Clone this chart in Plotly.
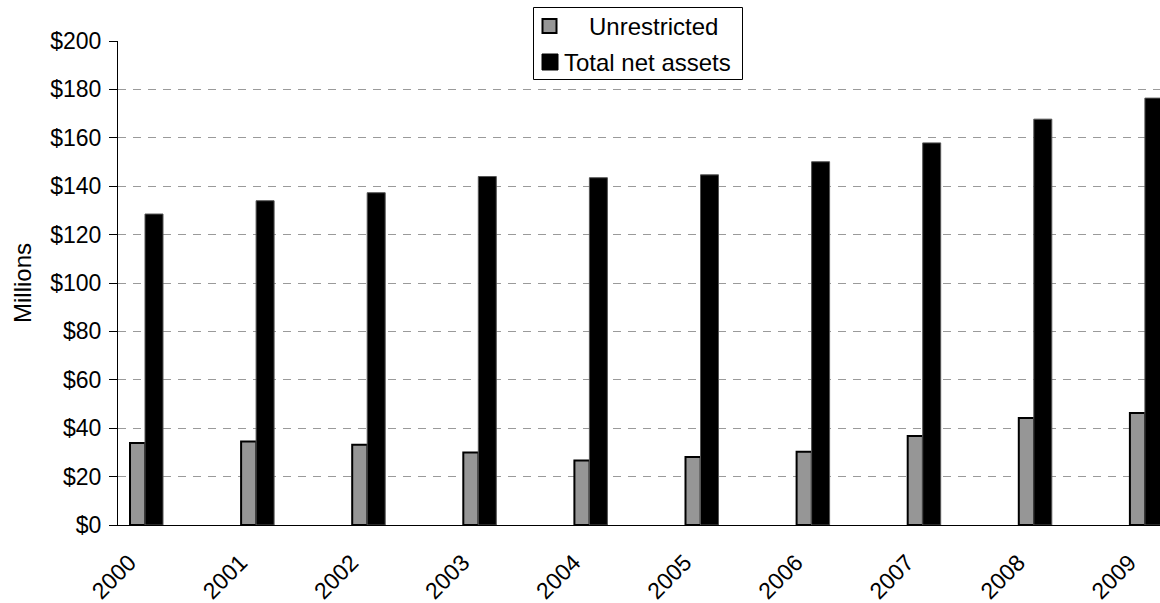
import plotly.graph_objects as go

# Net assets by fiscal year, in millions of dollars
years = ["2000", "2001", "2002", "2003", "2004", "2005", "2006", "2007", "2008", "2009"]
unrestricted = [33.9, 34.5, 33.2, 30.0, 26.7, 28.1, 30.3, 36.8, 44.2, 46.3]
total_net_assets = [128.5, 134.0, 137.3, 144.0, 143.5, 144.7, 150.1, 157.9, 167.7, 176.4]
series_names = ["Unrestricted", "Total net assets"]
y_ticks = [0, 20, 40, 60, 80, 100, 120, 140, 160, 180, 200]
y_tick_labels = ["$" + str(v) for v in y_ticks]

W, H = 1160, 603
L, R, T, B = 118, 0, 41, 78
FONT = "Arial, Liberation Sans, sans-serif"
GRAY = "#969696"

plot_w = W - L - R
plot_h = H - T - B


def px(x):
    """Pixel x -> paper x."""
    return (x - L) / plot_w


def py(y):
    """Pixel y -> paper y."""
    return (H - B - y) / plot_h


fig = go.Figure()
fig.add_trace(go.Bar(
    x=years, y=unrestricted, name=series_names[0],
    marker=dict(color=GRAY, line=dict(color="#000000", width=2)),
    offset=0.0045, width=0.137, showlegend=False,
))
fig.add_trace(go.Bar(
    x=years, y=total_net_assets, name=series_names[1],
    marker=dict(color="#000000", line=dict(color="#555555", width=1)),
    offset=0.1395, width=0.162, showlegend=False,
))

# Legend box drawn by hand so the swatches and text sit like the original
shapes = [
    dict(type="rect", xref="paper", yref="paper",
         x0=px(533.5), x1=px(742.5), y0=py(79.5), y1=py(7.5),
         line=dict(color="#000000", width=1), fillcolor="#ffffff", layer="above"),
    dict(type="rect", xref="paper", yref="paper",
         x0=px(542.5), x1=px(556.5), y0=py(33), y1=py(19),
         line=dict(color="#000000", width=2), fillcolor=GRAY, layer="above"),
    dict(type="rect", xref="paper", yref="paper",
         x0=px(542), x1=px(558), y0=py(70), y1=py(54),
         line=dict(color="#000000", width=1), fillcolor="#000000", layer="above"),
]
annotations = [
    dict(text=series_names[0], xref="paper", yref="paper", x=px(653.5), y=py(26.5),
         xanchor="center", yanchor="middle", showarrow=False,
         font=dict(family=FONT, size=24, color="#000000")),
    dict(text=series_names[1], xref="paper", yref="paper", x=px(562), y=py(62),
         xanchor="left", yanchor="middle", showarrow=False,
         font=dict(family=FONT, size=24, color="#000000")),
    dict(text="Millions", xref="paper", yref="paper", x=px(22), y=0.5,
         xanchor="center", yanchor="middle", textangle=-90, showarrow=False,
         font=dict(family=FONT, size=24, color="#000000")),
]

fig.update_layout(
    width=W, height=H,
    margin=dict(l=L, r=R, t=T, b=B, autoexpand=False),
    paper_bgcolor="#ffffff", plot_bgcolor="#ffffff",
    barmode="overlay",
    font=dict(family=FONT, size=23, color="#000000"),
    shapes=shapes, annotations=annotations,
    showlegend=False,
)
fig.update_xaxes(
    type="category", categoryorder="array", categoryarray=years,
    range=[-0.1035, 9.2754],
    showline=True, linecolor="#000000", linewidth=1,
    showgrid=False, ticks="", tickangle=-45,
    tickfont=dict(family=FONT, size=23, color="#000000"),
    ticklabelstandoff=14,
    zeroline=False, automargin=False,
)
fig.update_yaxes(
    range=[0, 200], tickvals=y_ticks, ticktext=y_tick_labels,
    showline=True, linecolor="#000000", linewidth=1,
    ticks="outside", ticklen=8, tickcolor="#000000", tickwidth=1,
    showgrid=True, gridcolor="#9a9a9a", gridwidth=1, griddash="8px,7px",
    tickfont=dict(family=FONT, size=23, color="#000000"),
    ticklabelstandoff=3,
    zeroline=False, automargin=False,
)

fig.write_html("out.html")
